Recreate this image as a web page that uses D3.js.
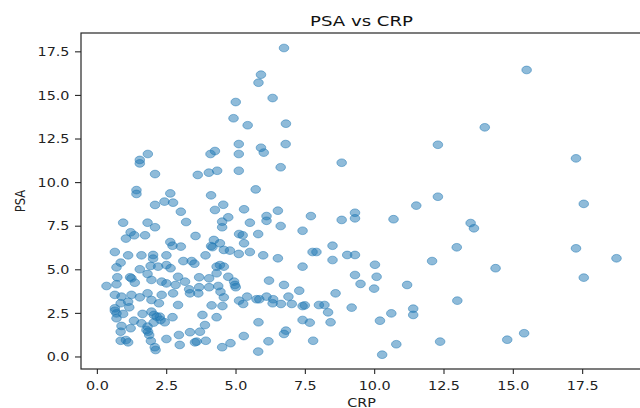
<!DOCTYPE html>
<html>
<head>
<meta charset="utf-8">
<script src="https://cdn.jsdelivr.net/npm/d3@7"></script>
<style>
  html, body { margin: 0; padding: 0; background: #fff; }
  text { font-family: "DejaVu Sans", sans-serif; fill: #222; }
</style>
</head>
<body>
<div id="chart"></div>
<script>
// values
const crp = [
  6.73, 5.90, 5.81, 6.32, 4.99, 4.91, 5.42, 6.80,
  1.53, 1.53, 1.82, 2.08, 1.41, 1.41, 2.63, 2.08, 2.42, 2.73, 3.01, 3.20,
  0.93, 1.81, 2.08, 1.20, 1.33, 1.03, 1.72, 2.63, 2.71, 3.01, 3.54, 0.63,
  1.11, 1.59, 2.01, 2.01, 2.49, 3.90, 4.10, 3.62, 4.02, 4.32, 4.08, 4.24,
  5.10, 5.10, 5.10, 4.24, 4.54, 4.72, 4.50, 4.50, 5.29, 5.50, 5.71, 5.90,
  6.00, 6.79, 6.61, 6.10, 6.10, 6.51, 6.61, 5.80, 5.11, 5.24, 5.29, 4.20,
  4.10, 4.15, 4.42, 4.56, 4.78, 5.10, 5.50, 5.98, 6.51, 7.40, 7.70, 7.76,
  7.90,
  0.33, 0.69, 0.72, 0.69, 0.84, 1.18, 1.23, 1.35, 1.53, 1.81, 1.95, 2.19,
  2.49, 2.64, 2.32, 2.49, 2.73, 2.82, 2.91, 3.16, 3.10, 3.40, 3.50, 3.31,
  3.34, 3.67, 3.67, 3.64, 4.03, 4.03, 4.30, 4.42, 4.56, 4.30, 4.36, 4.44,
  4.72, 4.56, 4.93, 4.96, 4.99, 5.11, 5.26, 5.40, 5.74, 5.84, 6.10, 6.19,
  6.34, 6.32, 6.62, 6.73, 6.89, 7.01, 7.28, 7.40, 7.48, 7.40, 7.99, 0.63,
  0.63, 0.69, 0.93, 0.69, 1.32, 1.63, 1.95, 2.04, 2.14, 2.25, 2.28, 2.43,
  2.71, 2.91, 3.79, 4.30, 3.88, 3.70, 3.34, 2.94, 2.49, 2.97, 3.52, 3.58,
  3.91, 4.50, 4.80, 5.28, 5.80, 5.81, 6.17, 6.73, 6.80, 7.78, 7.66, 7.40,
  1.77, 1.83, 1.87, 1.59, 1.81, 0.84, 1.20, 0.84, 1.03, 1.11, 1.93, 2.07,
  2.10, 1.23, 1.11, 0.84, 0.63, 0.87, 1.53, 1.81, 1.95, 2.32, 2.22, 1.15,
  0.87, 2.03, 4.12, 4.51, 1.92,
  8.81, 17.26, 12.28, 13.97, 15.48, 12.28, 11.50, 17.54, 9.29, 9.29, 8.81,
  10.68, 13.46, 13.58, 8.48, 9.01, 9.29, 8.48, 10.01, 12.07, 12.96, 17.26,
  18.72, 14.36, 9.29, 10.07, 9.49, 9.98, 11.17, 8.59, 17.54, 8.19, 8.32,
  8.41, 9.17, 12.98, 11.39, 11.39, 10.60, 10.19, 10.78, 10.27, 12.36, 14.78,
  15.39
];
const psa = [
  17.72, 16.19, 15.73, 14.85, 14.62, 13.69, 13.29, 13.38,
  11.30, 11.10, 11.64, 10.49, 9.57, 9.35, 9.38, 8.72, 8.91, 8.85, 8.33, 7.74,
  7.70, 7.70, 7.44, 7.15, 6.98, 6.79, 6.98, 6.59, 6.38, 6.33, 6.94, 6.02,
  5.83, 5.83, 5.85, 5.64, 5.83, 5.83, 9.27, 10.44, 10.57, 10.68, 11.64, 11.81,
  12.21, 11.64, 10.68, 8.43, 8.73, 8.01, 7.76, 7.44, 8.47, 7.70, 9.61, 12.00,
  11.72, 12.21, 10.88, 8.08, 7.81, 8.39, 7.51, 7.05, 7.05, 6.98, 6.52, 6.71,
  6.36, 6.30, 6.52, 6.14, 6.10, 5.91, 6.02, 5.83, 5.66, 7.24, 8.08, 6.02,
  6.02,
  4.07, 4.17, 4.57, 5.14, 5.41, 4.57, 4.51, 4.26, 5.03, 4.76, 4.42, 5.18,
  5.27, 5.09, 4.32, 4.22, 3.65, 4.13, 4.60, 4.32, 5.50, 5.50, 5.35, 3.88,
  3.65, 4.57, 4.00, 3.65, 4.51, 4.00, 5.18, 5.27, 5.18, 4.80, 4.07, 3.74,
  4.60, 3.42, 4.32, 4.13, 4.00, 3.23, 3.04, 3.46, 3.31, 3.31, 3.46, 4.38,
  3.31, 3.08, 3.04, 4.13, 3.46, 3.04, 3.80, 2.92, 2.96, 5.18, 2.98, 2.79,
  2.65, 2.50, 2.47, 2.22, 2.08, 2.47, 2.60, 2.41, 2.31, 2.31, 2.12, 1.99,
  2.28, 2.98, 2.41, 2.28, 1.83, 1.45, 1.42, 1.26, 1.03, 0.69, 0.84, 0.88,
  0.93, 0.56, 0.79, 1.20, 0.31, 1.99, 0.90, 1.32, 1.51, 0.93, 1.97, 2.12,
  1.55, 1.45, 1.26, 1.93, 1.74, 1.45, 1.65, 0.93, 0.97, 0.84, 0.92, 0.56,
  0.40, 3.56, 3.17, 3.08, 3.56, 3.46, 3.42, 3.65, 3.27, 3.56, 3.08, 2.85,
  1.78, 1.97, 2.96, 2.92, 5.22,
  11.14, 11.39, 12.17, 13.17, 16.46, 9.19, 8.68, 8.78, 8.27, 7.95, 7.86,
  7.90, 7.68, 7.38, 6.38, 5.85, 5.85, 5.56, 5.29, 5.50, 6.29, 6.23,
  5.66, 5.09, 4.70, 4.60, 4.19, 3.92, 4.13, 3.65, 4.55, 2.98, 2.56,
  1.99, 2.83, 3.23, 2.77, 2.41, 2.50, 2.08, 0.73, 0.13, 0.88, 0.99,
  1.36
];
const xTicks = [0, 2.5, 5, 7.5, 10, 12.5, 15, 17.5];
const yTicks = [0, 2.5, 5, 7.5, 10, 12.5, 15, 17.5];

const W = 640, H = 408;
// plot box (right edge runs just past the picture)
const box = {left: 81, top: 33, right: 642, bottom: 369};
// the reference is stretched sideways, text and markers follow that
const SX = 1.25;

const x = d3.scaleLinear().domain([-0.59, 19.64]).range([box.left, box.right]);
const y = d3.scaleLinear().domain([-0.69, 18.58]).range([box.bottom, box.top]);
const fmt = d3.format('.1f');

const svg = d3.select('#chart').append('svg')
  .attr('width', W)
  .attr('height', H);

// points
const pts = crp.map((c, i) => ({c: c, p: psa[i]}));
svg.append('g')
  .selectAll('ellipse')
  .data(pts)
  .join('ellipse')
  .attr('cx', d => x(d.c))
  .attr('cy', d => y(d.p))
  .attr('rx', 4.8)
  .attr('ry', 3.85)
  .attr('fill', '#1f77b4')
  .attr('fill-opacity', 0.5)
  .attr('stroke', '#1f77b4')
  .attr('stroke-opacity', 0.5)
  .attr('stroke-width', 1);

// spines
const spine = svg.append('g')
  .attr('stroke', '#262626')
  .attr('stroke-width', 1.2)
  .attr('fill', 'none');
spine.append('rect')
  .attr('x', box.left)
  .attr('y', box.top)
  .attr('width', box.right - box.left)
  .attr('height', box.bottom - box.top);

// x axis ticks
const gx = svg.append('g');
gx.selectAll('line')
  .data(xTicks)
  .join('line')
  .attr('x1', d => x(d)).attr('x2', d => x(d))
  .attr('y1', box.bottom).attr('y2', box.bottom + 5)
  .attr('stroke', '#262626')
  .attr('stroke-width', 1.1);
gx.selectAll('text')
  .data(xTicks)
  .join('text')
  .attr('transform', d => `translate(${x(d)},389.5) scale(${SX},1)`)
  .attr('text-anchor', 'middle')
  .style('font-size', '11.5px')
  .text(d => fmt(d));

// y axis ticks
const gy = svg.append('g');
gy.selectAll('line')
  .data(yTicks)
  .join('line')
  .attr('x1', box.left - 6).attr('x2', box.left)
  .attr('y1', d => y(d)).attr('y2', d => y(d))
  .attr('stroke', '#262626')
  .attr('stroke-width', 1.1);
gy.selectAll('text')
  .data(yTicks)
  .join('text')
  .attr('transform', d => `translate(69.5,${y(d)}) scale(${SX},1)`)
  .attr('text-anchor', 'end')
  .attr('dy', '0.36em')
  .style('font-size', '11.5px')
  .text(d => fmt(d));

// title and axis labels
svg.append('text')
  .attr('transform', `translate(${(box.left + box.right) / 2},26) scale(${SX},1)`)
  .attr('text-anchor', 'middle')
  .style('font-size', '14.5px')
  .style('fill', '#111')
  .text('PSA vs CRP');

svg.append('text')
  .attr('transform', `translate(${(box.left + box.right) / 2},406.5) scale(${SX},1)`)
  .attr('text-anchor', 'middle')
  .style('font-size', '11.5px')
  .text('CRP');

svg.append('text')
  .attr('transform', `translate(25,${(box.top + box.bottom) / 2}) scale(${SX},1) rotate(-90)`)
  .attr('text-anchor', 'middle')
  .style('font-size', '11.5px')
  .text('PSA');
</script>
</body>
</html>
